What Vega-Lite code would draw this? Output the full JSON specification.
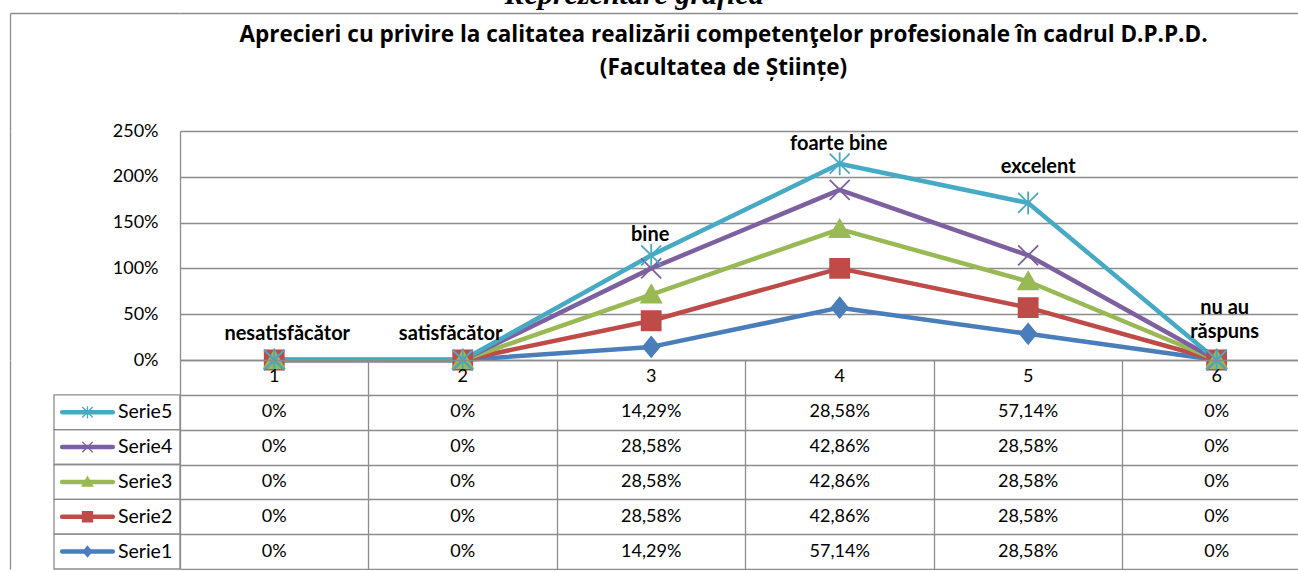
{
  "$schema": "https://vega.github.io/schema/vega-lite/v6.json",
  "background": "white",
  "padding": {"left": 9, "top": -20, "right": 0, "bottom": 0},
  "title": {
    "text": "Reprezentare grafică",
    "font": "Liberation Serif",
    "fontSize": 30,
    "fontWeight": "bold",
    "fontStyle": "italic",
    "color": "black",
    "anchor": "middle",
    "dx": -20,
    "offset": 2
  },
  "datasets": {
    "d": [
      {"cat": 1, "s": "Serie1", "v": 0, "lab": "nesatisfăcător"},
      {"cat": 2, "s": "Serie1", "v": 0, "lab": "satisfăcător"},
      {"cat": 3, "s": "Serie1", "v": 0.1429, "lab": "bine"},
      {"cat": 4, "s": "Serie1", "v": 0.5714, "lab": "foarte bine"},
      {"cat": 5, "s": "Serie1", "v": 0.2858, "lab": "excelent"},
      {"cat": 6, "s": "Serie1", "v": 0, "lab": "nu au\nrăspuns"},
      {"cat": 1, "s": "Serie2", "v": 0, "lab": "nesatisfăcător"},
      {"cat": 2, "s": "Serie2", "v": 0, "lab": "satisfăcător"},
      {"cat": 3, "s": "Serie2", "v": 0.2858, "lab": "bine"},
      {"cat": 4, "s": "Serie2", "v": 0.4286, "lab": "foarte bine"},
      {"cat": 5, "s": "Serie2", "v": 0.2858, "lab": "excelent"},
      {"cat": 6, "s": "Serie2", "v": 0, "lab": "nu au\nrăspuns"},
      {"cat": 1, "s": "Serie3", "v": 0, "lab": "nesatisfăcător"},
      {"cat": 2, "s": "Serie3", "v": 0, "lab": "satisfăcător"},
      {"cat": 3, "s": "Serie3", "v": 0.2858, "lab": "bine"},
      {"cat": 4, "s": "Serie3", "v": 0.4286, "lab": "foarte bine"},
      {"cat": 5, "s": "Serie3", "v": 0.2858, "lab": "excelent"},
      {"cat": 6, "s": "Serie3", "v": 0, "lab": "nu au\nrăspuns"},
      {"cat": 1, "s": "Serie4", "v": 0, "lab": "nesatisfăcător"},
      {"cat": 2, "s": "Serie4", "v": 0, "lab": "satisfăcător"},
      {"cat": 3, "s": "Serie4", "v": 0.2858, "lab": "bine"},
      {"cat": 4, "s": "Serie4", "v": 0.4286, "lab": "foarte bine"},
      {"cat": 5, "s": "Serie4", "v": 0.2858, "lab": "excelent"},
      {"cat": 6, "s": "Serie4", "v": 0, "lab": "nu au\nrăspuns"},
      {"cat": 1, "s": "Serie5", "v": 0, "lab": "nesatisfăcător"},
      {"cat": 2, "s": "Serie5", "v": 0, "lab": "satisfăcător"},
      {"cat": 3, "s": "Serie5", "v": 0.1429, "lab": "bine"},
      {"cat": 4, "s": "Serie5", "v": 0.2858, "lab": "foarte bine"},
      {"cat": 5, "s": "Serie5", "v": 0.5714, "lab": "excelent"},
      {"cat": 6, "s": "Serie5", "v": 0, "lab": "nu au\nrăspuns"}
    ]
  },
  "columns": 2,
  "spacing": 0,
  "bounds": "flush",
  "resolve": {"scale": {"x": "independent", "y": "independent"}},
  "concat": [
    {
      "width": 126,
      "height": 118,
      "data": {"values": [{}]},
      "mark": {"type": "point", "opacity": 0},
      "encoding": {
        "y": {"datum": 0, "type": "quantitative", "scale": {"domain": [0, 1]}, "axis": {"orient": "left", "offset": 44, "values": [1], "ticks": true, "tickSize": -170, "tickColor": "#8c8c8c", "tickWidth": 1.3, "domain": true, "domainColor": "#8c8c8c", "domainWidth": 1.3, "labels": false, "grid": false, "title": null}}
      }
    },
    {
      "width": 1119,
      "height": 118,
      "data": {"values": [{}]},
      "mark": {"type": "point", "opacity": 0},
      "encoding": {
        "x": {"datum": 0, "type": "quantitative", "scale": {"domain": [0, 1]}, "axis": {"orient": "top", "ticks": false, "labels": false, "grid": false, "domain": true, "domainColor": "#8c8c8c", "domainWidth": 1.3, "title": null}}
      }
    },
    {
      "width": 126,
      "height": 229,
      "data": {"values": [{}]},
      "mark": {"type": "point", "opacity": 0},
      "encoding": {
        "y": {"datum": 0, "type": "quantitative", "scale": {"domain": [0, 1]}, "axis": {"orient": "left", "offset": 44, "ticks": false, "domain": true, "domainColor": "#8c8c8c", "domainWidth": 1.3, "labels": false, "grid": false, "title": null}}
      }
    },
    {
      "width": 1119,
      "height": 229,
      "title": {
        "text": "Aprecieri cu privire la calitatea realizării competenţelor profesionale în cadrul D.P.P.D.",
        "subtitle": "(Facultatea de Științe)",
        "font": "Open Sans",
        "fontSize": 22.5,
        "fontWeight": "bold",
        "color": "black",
        "subtitleFont": "Open Sans",
        "subtitleFontSize": 22.5,
        "subtitleFontWeight": "bold",
        "subtitleColor": "black",
        "subtitlePadding": 10.5,
        "anchor": "middle",
        "dx": -16,
        "offset": 43
      },
      "data": {"name": "d"},
      "transform": [
        {"stack": "v", "groupby": ["cat"], "sort": [{"field": "s", "order": "ascending"}], "as": ["v0", "v1"]}
      ],
      "encoding": {
        "x": {"field": "cat", "type": "quantitative", "scale": {"domain": [0.5, 6.437], "nice": false, "zero": false}, "axis": null},
        "y": {
          "field": "v1", "type": "quantitative",
          "scale": {"domain": [0, 2.5], "nice": false},
          "axis": {"values": [0, 0.5, 1, 1.5, 2, 2.5], "format": ".0%", "grid": true, "ticks": false, "domain": true, "domainColor": "#8c8c8c", "domainWidth": 1.3, "gridColor": "#8c8c8c", "gridWidth": 1.3, "gridOpacity": 1, "labelPadding": 22, "title": null, "labelFont": "Lato", "labelFontSize": 18, "labelColor": "black"}
        }
      },
      "layer": [
        {
          "mark": {"type": "line", "strokeWidth": 4.5, "strokeJoin": "round", "strokeCap": "round"},
          "encoding": {
            "color": {"field": "s", "type": "nominal", "legend": null, "scale": {"domain": ["Serie1", "Serie2", "Serie3", "Serie4", "Serie5"], "range": ["#4A7EBB", "#BE4B48", "#98B954", "#7D60A0", "#46AAC5"]}}
          }
        },
        {
          "mark": {"type": "point", "size": 400, "strokeWidth": 1.8, "opacity": 1},
          "encoding": {
            "fill": {"field": "s", "type": "nominal", "legend": null, "scale": {"domain": ["Serie1", "Serie2", "Serie3", "Serie4", "Serie5"], "range": ["#4A7EBB", "#BE4B48", "#98B954", "#7D60A0", "#46AAC5"]}},
            "stroke": {"field": "s", "type": "nominal", "legend": null, "scale": {"domain": ["Serie1", "Serie2", "Serie3", "Serie4", "Serie5"], "range": ["#4A7EBB", "#BE4B48", "#98B954", "#7D60A0", "#46AAC5"]}},
            "shape": {"field": "s", "type": "nominal", "legend": null, "scale": {"domain": ["Serie1", "Serie2", "Serie3", "Serie4", "Serie5"], "range": ["M0,-1L0.82,0L0,1L-0.82,0Z", "M-0.95,-0.95H0.95V0.95H-0.95Z", "M0,-0.95L1,0.8H-1Z", "M-1,-1L1,1M-1,1L1,-1", "M-1,-1L1,1M-1,1L1,-1M0,-1.15L0,1.15"]}}
          }
        },
        {
          "transform": [{"filter": "datum.s == 'Serie5' && datum.cat == 1"}],
          "mark": {"type": "text", "font": "Lato", "fontWeight": "bold", "fontSize": 20, "color": "black", "baseline": "middle", "dx": 13, "dy": -26},
          "encoding": {"text": {"field": "lab", "type": "nominal"}}
        },
        {
          "transform": [{"filter": "datum.s == 'Serie5' && datum.cat == 2"}],
          "mark": {"type": "text", "font": "Lato", "fontWeight": "bold", "fontSize": 20, "color": "black", "baseline": "middle", "dx": -12, "dy": -26},
          "encoding": {"text": {"field": "lab", "type": "nominal"}}
        },
        {
          "transform": [{"filter": "datum.s == 'Serie5' && (datum.cat == 3 || datum.cat == 4)"}],
          "mark": {"type": "text", "font": "Lato", "fontWeight": "bold", "fontSize": 20, "color": "black", "baseline": "middle", "dx": -1, "dy": -20},
          "encoding": {"text": {"field": "lab", "type": "nominal"}}
        },
        {
          "transform": [{"filter": "datum.s == 'Serie5' && datum.cat == 5"}],
          "mark": {"type": "text", "font": "Lato", "fontWeight": "bold", "fontSize": 20, "color": "black", "baseline": "middle", "dx": 10, "dy": -36},
          "encoding": {"text": {"field": "lab", "type": "nominal"}}
        },
        {
          "transform": [{"filter": "datum.s == 'Serie5' && datum.cat == 6"}],
          "mark": {"type": "text", "font": "Lato", "fontWeight": "bold", "fontSize": 20, "color": "black", "baseline": "middle", "lineBreak": "\n", "lineHeight": 24, "dx": 8, "dy": -52},
          "encoding": {"text": {"field": "lab", "type": "nominal"}}
        }
      ]
    },
    {
      "width": 126,
      "height": 209,
      "data": {"name": "d"},
      "transform": [{"filter": "datum.cat == 1"}],
      "encoding": {
        "y": {"field": "s", "type": "nominal", "axis": {"orient": "left", "offset": 44, "ticks": false, "labels": false, "grid": false, "domain": true, "domainColor": "#8c8c8c", "domainWidth": 1.3, "title": null}, "scale": {"domain": ["hdr", "Serie5", "Serie4", "Serie3", "Serie2", "Serie1"], "paddingInner": 0, "paddingOuter": 0}}
      },
      "layer": [
        {"mark": {"type": "rect", "fill": "transparent", "stroke": "#8c8c8c", "strokeWidth": 1.3}},
        {
          "mark": {"type": "tick", "orient": "horizontal", "size": 55, "thickness": 4.5, "cornerRadius": 2, "xOffset": -29.5, "opacity": 1},
          "encoding": {"color": {"field": "s", "type": "nominal", "legend": null, "scale": {"domain": ["Serie1", "Serie2", "Serie3", "Serie4", "Serie5"], "range": ["#4A7EBB", "#BE4B48", "#98B954", "#7D60A0", "#46AAC5"]}}}
        },
        {
          "mark": {"type": "point", "size": 110, "strokeWidth": 1.3, "xOffset": -29.5, "opacity": 1},
          "encoding": {
            "fill": {"field": "s", "type": "nominal", "legend": null},
            "stroke": {"field": "s", "type": "nominal", "legend": null},
            "shape": {"field": "s", "type": "nominal", "legend": null}
          }
        },
        {
          "mark": {"type": "text", "align": "left", "dx": 1, "font": "Lato", "fontSize": 19.5, "color": "black"},
          "encoding": {"text": {"field": "s", "type": "nominal"}}
        }
      ]
    },
    {
      "width": 1119,
      "height": 209,
      "data": {"name": "d"},
      "encoding": {
        "x": {"field": "cat", "type": "quantitative", "scale": {"domain": [0.5, 6.437], "nice": false, "zero": false}, "axis": {"orient": "top", "values": [0.5, 1.5, 2.5, 3.5, 4.5, 5.5], "grid": true, "labels": false, "ticks": false, "domain": false, "title": null, "gridColor": "#8c8c8c", "gridWidth": 1.3, "gridOpacity": 1}}
      },
      "layer": [
        {
          "mark": {"type": "text", "font": "Lato", "fontSize": 18, "color": "black"},
          "encoding": {
            "y": {"field": "s", "type": "nominal", "scale": {"domain": ["hdr", "Serie5", "Serie4", "Serie3", "Serie2", "Serie1"], "paddingInner": 0, "paddingOuter": 0}, "axis": {"grid": true, "tickBand": "extent", "labels": false, "ticks": false, "domain": false, "title": null, "gridColor": "#8c8c8c", "gridWidth": 1.3, "gridOpacity": 1}},
            "text": {"field": "v", "type": "quantitative", "format": ".2~%"}
          }
        },
        {
          "transform": [{"filter": "datum.s == 'Serie1'"}],
          "mark": {"type": "text", "font": "Lato", "fontSize": 18, "color": "black"},
          "encoding": {
            "y": {"datum": "hdr", "type": "nominal"},
            "text": {"field": "cat", "type": "nominal"}
          }
        }
      ]
    }
  ],
  "config": {
    "font": "Lato",
    "view": {"stroke": null},
    "locale": {"number": {"decimal": ",", "thousands": ".", "grouping": [3], "currency": ["", ""]}}
  }
}
